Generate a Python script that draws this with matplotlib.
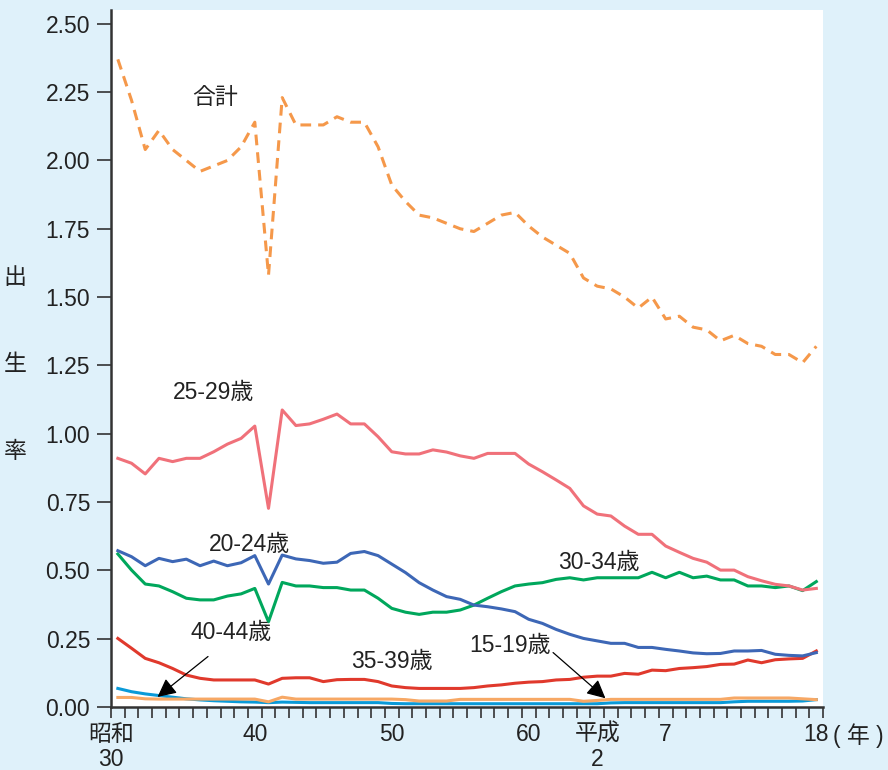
import numpy as np
import matplotlib
matplotlib.use("Agg")
import matplotlib.pyplot as plt

plt.rcParams['font.family'] = ['Liberation Sans', 'Noto Sans CJK JP', 'DejaVu Sans']

# 昭和30年(1955) - 平成18年(2006)
years = list(range(1955, 2007))

total = [2.37, 2.22, 2.04, 2.11, 2.04, 2.00, 1.96, 1.98, 2.00, 2.05,
         2.14, 1.58, 2.23, 2.13, 2.13, 2.13, 2.16, 2.14, 2.14, 2.05,
         1.91, 1.85, 1.80, 1.79, 1.77, 1.75, 1.74, 1.77, 1.80, 1.81,
         1.76, 1.72, 1.69, 1.66, 1.57, 1.54, 1.53, 1.50, 1.46, 1.50,
         1.42, 1.43, 1.39, 1.38, 1.34, 1.36, 1.33, 1.32, 1.29, 1.29,
         1.26, 1.32]

age25_29 = [0.910, 0.892, 0.853, 0.910, 0.898, 0.910, 0.910, 0.934, 0.962, 0.983,
            1.028, 0.727, 1.087, 1.030, 1.036, 1.053, 1.072, 1.036, 1.036, 0.989,
            0.934, 0.926, 0.926, 0.941, 0.933, 0.919, 0.910, 0.928, 0.928, 0.928,
            0.889, 0.861, 0.831, 0.800, 0.736, 0.706, 0.699, 0.662, 0.632, 0.632,
            0.589, 0.566, 0.544, 0.530, 0.501, 0.501, 0.477, 0.462, 0.449, 0.443,
            0.428, 0.434]

age20_24 = [0.572, 0.550, 0.517, 0.544, 0.532, 0.541, 0.517, 0.534, 0.517, 0.528,
            0.554, 0.450, 0.556, 0.542, 0.536, 0.526, 0.530, 0.562, 0.569, 0.554,
            0.523, 0.492, 0.455, 0.428, 0.404, 0.394, 0.373, 0.367, 0.359, 0.349,
            0.321, 0.306, 0.284, 0.266, 0.251, 0.242, 0.233, 0.233, 0.218, 0.218,
            0.211, 0.205, 0.198, 0.195, 0.196, 0.205, 0.205, 0.207, 0.193, 0.189,
            0.187, 0.199]

age30_34 = [0.560, 0.501, 0.450, 0.443, 0.422, 0.398, 0.392, 0.392, 0.406, 0.414,
            0.434, 0.312, 0.456, 0.443, 0.443, 0.437, 0.437, 0.428, 0.428, 0.398,
            0.361, 0.347, 0.339, 0.347, 0.347, 0.355, 0.373, 0.398, 0.422, 0.443,
            0.450, 0.455, 0.467, 0.473, 0.465, 0.473, 0.473, 0.473, 0.473, 0.493,
            0.473, 0.493, 0.473, 0.479, 0.465, 0.465, 0.443, 0.443, 0.437, 0.443,
            0.426, 0.459]

age35_39 = [0.251, 0.215, 0.178, 0.162, 0.141, 0.117, 0.105, 0.099, 0.099, 0.099,
            0.099, 0.084, 0.105, 0.107, 0.107, 0.093, 0.100, 0.101, 0.101, 0.093,
            0.077, 0.071, 0.068, 0.068, 0.068, 0.068, 0.071, 0.077, 0.081, 0.087,
            0.091, 0.093, 0.099, 0.101, 0.109, 0.113, 0.113, 0.123, 0.120, 0.135,
            0.133, 0.141, 0.144, 0.148, 0.156, 0.157, 0.172, 0.162, 0.173, 0.176,
            0.178, 0.205]

age40_44 = [0.068, 0.056, 0.048, 0.042, 0.036, 0.030, 0.026, 0.023, 0.021, 0.019,
            0.018, 0.016, 0.018, 0.017, 0.016, 0.016, 0.016, 0.016, 0.016, 0.016,
            0.013, 0.012, 0.012, 0.012, 0.012, 0.012, 0.012, 0.012, 0.012, 0.012,
            0.012, 0.012, 0.012, 0.012, 0.012, 0.012, 0.015, 0.016, 0.016, 0.016,
            0.016, 0.016, 0.016, 0.016, 0.016, 0.019, 0.021, 0.021, 0.021, 0.021,
            0.022, 0.027]

age15_19 = [0.035, 0.035, 0.030, 0.029, 0.029, 0.029, 0.029, 0.029, 0.029, 0.029,
            0.029, 0.019, 0.036, 0.029, 0.029, 0.029, 0.029, 0.029, 0.029, 0.029,
            0.029, 0.027, 0.022, 0.022, 0.022, 0.028, 0.028, 0.028, 0.028, 0.028,
            0.028, 0.028, 0.028, 0.028, 0.021, 0.024, 0.028, 0.028, 0.028, 0.028,
            0.028, 0.028, 0.028, 0.028, 0.028, 0.033, 0.033, 0.033, 0.033, 0.033,
            0.030, 0.027]

# x軸ラベル
xlabel_years = [1955, 1965, 1975, 1985, 1990, 1995, 2006]
xlabel_texts = ['昭和\n30', '40', '50', '60', '平成\n2', '7', '18']
yticks = [0.0, 0.25, 0.5, 0.75, 1.0, 1.25, 1.5, 1.75, 2.0, 2.25, 2.5]

fs = 16.5
tc = '#222222'
bg = '#dff1fa'
fig = plt.figure(figsize=(8.88, 7.70), dpi=100, facecolor=bg)
ax = fig.add_axes([0.125, 0.0818, 0.802, 0.905])
ax.set_facecolor('white')

x = np.array(years)
ax.plot(x, age40_44, color='#0a9ad8', lw=2.2)
ax.plot(x, age15_19, color='#f7a865', lw=2.2)
ax.plot(x, age35_39, color='#e0392c', lw=2.2)
ax.plot(x, age30_34, color='#00a75c', lw=2.2)
ax.plot(x, age20_24, color='#3d67b6', lw=2.2)
ax.plot(x, age25_29, color='#f0717a', lw=2.2)
ax.plot(x, total, color='#f5984a', lw=2.2, linestyle=(0, (3.5, 2.3)))

ax.set_xlim(1954.5, 2006.5)
ax.set_ylim(0, 2.55)

for s in ['top', 'right']:
    ax.spines[s].set_visible(False)
for s in ['left', 'bottom']:
    ax.spines[s].set_linewidth(1.8)
    ax.spines[s].set_color('#333333')

ax.set_yticks(yticks)
ax.set_yticklabels(['%.2f' % v for v in yticks], fontsize=fs, color=tc)
ax.tick_params(axis='y', direction='out', length=10, width=1.2, color='#333333', pad=5)

ax.set_xticks(np.arange(1954.5, 2007.0, 1.0))
ax.set_xticklabels([])
ax.tick_params(axis='x', direction='out', length=8, width=1.2, color='#333333')

for yr, t in zip(xlabel_years, xlabel_texts):
    xx = yr - 0.5 if yr == 1955 else yr
    ax.text(xx, -0.058, t, ha='center', va='top', fontsize=fs, color=tc,
            linespacing=1.12)
ax.text(2007.2, -0.058, '( 年 )', ha='left', va='top', fontsize=fs, color=tc)

# y軸ラベル
for ch, yy in zip(['出', '生', '率'], [0.64, 0.527, 0.413]):
    fig.text(0.017, yy, ch, ha='center', va='center', fontsize=fs, color=tc)

# 系列ラベル
ax.text(1962.1, 2.23, '合計', ha='center', va='center', fontsize=fs, color=tc)
ax.text(1962.0, 1.15, '25-29歳', ha='center', va='center', fontsize=fs, color=tc)
ax.text(1964.6, 0.595, '20-24歳', ha='center', va='center', fontsize=fs, color=tc)
ax.text(1990.1, 0.527, '30-34歳', ha='center', va='center', fontsize=fs, color=tc)
ax.text(1975.0, 0.165, '35-39歳', ha='center', va='center', fontsize=fs, color=tc)

ax.annotate('40-44歳', xy=(1957.9, 0.037), xytext=(1963.3, 0.272),
            ha='center', va='center', fontsize=fs, color=tc,
            arrowprops=dict(arrowstyle='-|>', color='black', lw=0.9,
                            mutation_scale=28, shrinkA=11, shrinkB=0,
                            relpos=(0.4, 0.0)))
ax.annotate('15-19歳', xy=(1990.6, 0.032), xytext=(1983.6, 0.225),
            ha='center', va='center', fontsize=fs, color=tc,
            arrowprops=dict(arrowstyle='-|>', color='black', lw=0.9,
                            mutation_scale=28, shrinkA=0, shrinkB=0,
                            relpos=(1.0, 0.3)))

fig.savefig('out.png', dpi=100, facecolor=bg)
